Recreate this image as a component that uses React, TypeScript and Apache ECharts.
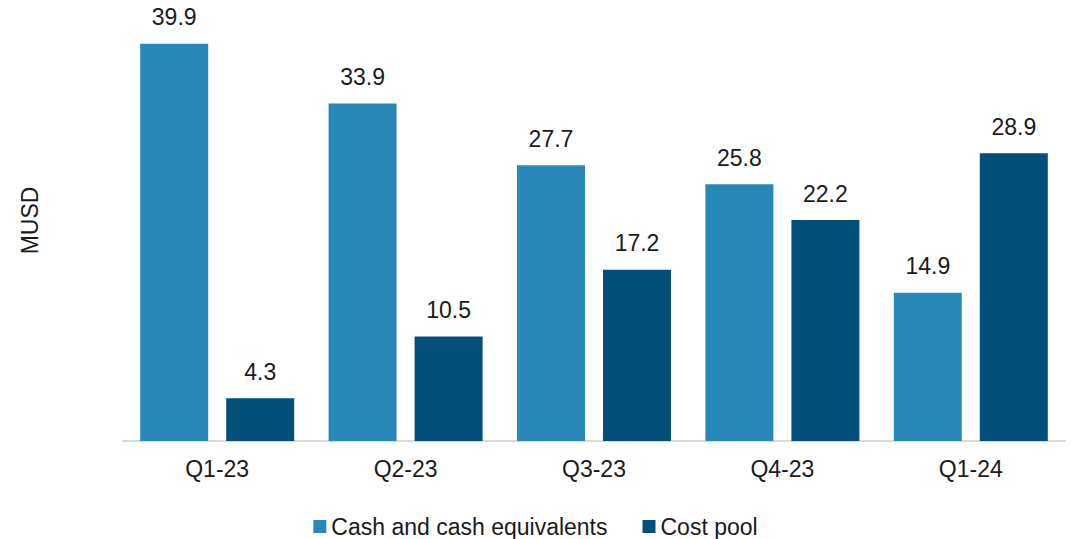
import React, { useEffect, useRef } from "react";
import * as echarts from "echarts";

const categories = ["Q1-23", "Q2-23", "Q3-23", "Q4-23", "Q1-24"];
const cashValues = [39.9, 33.9, 27.7, 25.8, 14.9];
const costPoolValues = [4.3, 10.5, 17.2, 22.2, 28.9];
const seriesNames = ["Cash and cash equivalents", "Cost pool"];

const FONT = "'Liberation Sans', Arial, sans-serif";
const TEXT = "#1a1a1a";
const FS = 23;

export default function App() {
  const ref = useRef<HTMLDivElement>(null);
  useEffect(() => {
    if (!ref.current) return;
    const chart = echarts.init(ref.current, undefined, { renderer: "svg" });
    const labelCfg = {
      show: true,
      position: "top" as const,
      distance: 15,
      color: TEXT,
      fontSize: FS,
      fontFamily: FONT,
      formatter: (p: any) => p.value.toFixed(1),
    };
    chart.setOption({
      animation: false,
      textStyle: { fontFamily: FONT },
      grid: { left: 123, right: 6, top: 0, bottom: 98 },
      legend: {
        left: "center",
        top: 510,
        icon: "rect",
        itemWidth: 13,
        itemHeight: 13,
        itemGap: 35,
        textStyle: { color: TEXT, fontSize: FS, fontFamily: FONT },
        data: seriesNames,
      },
      xAxis: {
        type: "category",
        data: categories,
        axisLine: { show: true, lineStyle: { color: "#d9d9d9", width: 2 } },
        axisTick: { show: false },
        axisLabel: { color: TEXT, fontSize: FS, fontFamily: FONT, margin: 16 },
      },
      yAxis: {
        type: "value",
        min: 0,
        max: 44.3,
        name: "MUSD",
        nameLocation: "middle",
        nameGap: 82,
        nameTextStyle: { color: TEXT, fontSize: FS, fontFamily: FONT },
        axisLine: { show: false },
        axisTick: { show: false },
        axisLabel: { show: false },
        splitLine: { show: false },
      },
      series: [
        {
          name: seriesNames[0],
          type: "bar",
          data: cashValues,
          barWidth: 68,
          barGap: "26.5%",
          itemStyle: { color: "#2889B8" },
          label: labelCfg,
        },
        {
          name: seriesNames[1],
          type: "bar",
          data: costPoolValues,
          barWidth: 68,
          barGap: "26.5%",
          itemStyle: { color: "#02507A" },
          label: labelCfg,
        },
      ],
    });
    return () => chart.dispose();
  }, []);
  return (
    <div
      ref={ref}
      style={{ position: "fixed", left: 0, top: 0, width: 1071, height: 539, background: "#fff" }}
    />
  );
}
